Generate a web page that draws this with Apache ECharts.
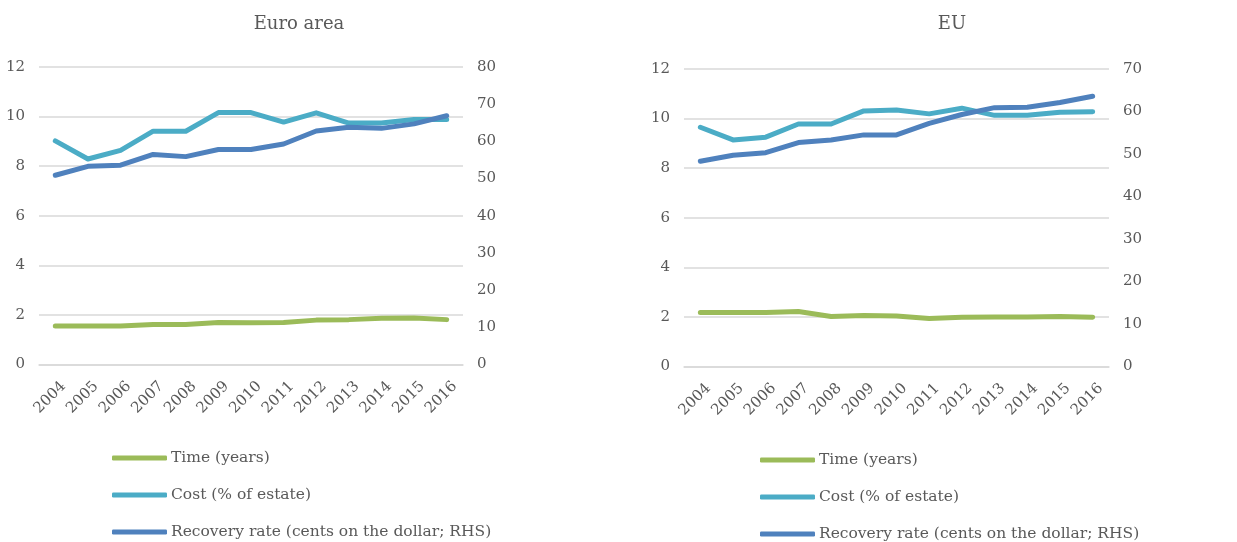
<!DOCTYPE html>
<html>
<head>
<meta charset="utf-8">
<script src="https://cdn.jsdelivr.net/npm/echarts@6/dist/echarts.min.js"></script>
<style>
html,body{margin:0;padding:0;background:#fff;}
#c{width:1237px;height:542px;}
</style>
</head>
<body>
<div id="c"></div>
<script>
const years = ['2004','2005','2006','2007','2008','2009','2010','2011','2012','2013','2014','2015','2016'];
const seriesNames = ['Time (years)', 'Cost (% of estate)', 'Recovery rate (cents on the dollar; RHS)'];
const chartTitles = ['Euro area', 'EU'];

// Euro area
const euroTime = [1.55, 1.55, 1.55, 1.61, 1.61, 1.69, 1.68, 1.69, 1.79, 1.81, 1.87, 1.88, 1.81];
const euroCost = [9.02, 8.29, 8.64, 9.41, 9.41, 10.16, 10.16, 9.78, 10.15, 9.74, 9.74, 9.88, 9.88];
const euroRecovery = [50.9, 53.3, 53.6, 56.5, 55.9, 57.8, 57.8, 59.3, 62.8, 63.8, 63.5, 64.7, 66.9];

// EU
const euTime = [2.18, 2.18, 2.18, 2.22, 2.02, 2.06, 2.04, 1.94, 1.99, 2.0, 2.0, 2.02, 1.99];
const euCost = [9.65, 9.14, 9.25, 9.78, 9.78, 10.31, 10.35, 10.19, 10.42, 10.13, 10.13, 10.26, 10.28];
const euRecovery = [48.3, 49.7, 50.3, 52.7, 53.3, 54.5, 54.5, 57.2, 59.3, 60.9, 61.0, 62.1, 63.6];

const leftTicks = {min: 0, max: 12, interval: 2};
const rightTicksEuro = {min: 0, max: 80, interval: 10};
const rightTicksEU = {min: 0, max: 70, interval: 10};

const colors = ['#9BBB59', '#4BACC6', '#4F81BD'];
const font = 'DejaVu Serif';
const txt = '#595959';
const gridColor = '#D9D9D9';

function xAxis(gi) {
  return {
    type: 'category', gridIndex: gi, data: years, boundaryGap: true,
    axisLine: {show: true, lineStyle: {color: gridColor, width: 1.5}},
    axisTick: {show: false},
    axisLabel: {rotate: 45, margin: 17, verticalAlign: 'top', padding: [0, -4, 0, 0],
                color: txt, fontFamily: font, fontSize: 15}
  };
}
function yLeft(gi) {
  return Object.assign({
    type: 'value', gridIndex: gi, position: 'left',
    axisLine: {show: false}, axisTick: {show: false},
    axisLabel: {margin: 14, color: txt, fontFamily: font, fontSize: 15},
    splitLine: {show: true, lineStyle: {color: gridColor, width: 1.5}}
  }, leftTicks);
}
function yRight(gi, t) {
  return Object.assign({
    type: 'value', gridIndex: gi, position: 'right',
    axisLine: {show: false}, axisTick: {show: false},
    axisLabel: {margin: 14, color: txt, fontFamily: font, fontSize: 15},
    splitLine: {show: false}
  }, t);
}
function line(name, data, xi, yi, color) {
  return {
    name: name, type: 'line', data: data, xAxisIndex: xi, yAxisIndex: yi,
    symbol: 'none', color: color,
    lineStyle: {width: 5, color: color, cap: 'round', join: 'round'},
    emphasis: {disabled: true}
  };
}
function legend(left, top) {
  return {
    orient: 'vertical', left: left, top: top, height: 300, padding: 0,
    icon: 'roundRect', itemWidth: 55, itemHeight: 5, itemGap: 19,
    data: seriesNames,
    textStyle: {color: txt, fontFamily: font, fontSize: 15.5, lineHeight: 18, padding: [0,0,0,-1]}
  };
}

const chart = echarts.init(document.getElementById('c'), null, {renderer: 'canvas'});
chart.setOption({
  animation: false,
  backgroundColor: '#fff',
  title: [
    {text: chartTitles[0], left: 294, top: 10, textAlign: 'center',
     textStyle: {color: txt, fontFamily: font, fontSize: 18, fontWeight: 'normal'}},
    {text: chartTitles[1], left: 947, top: 10, textAlign: 'center',
     textStyle: {color: txt, fontFamily: font, fontSize: 18, fontWeight: 'normal'}}
  ],
  legend: [legend(112, 449), legend(760, 451)],
  grid: [
    {left: 39, top: 67, width: 424, height: 297.5},
    {left: 684, top: 69, width: 425, height: 297.5}
  ],
  xAxis: [xAxis(0), xAxis(1)],
  yAxis: [yLeft(0), yRight(0, rightTicksEuro), yLeft(1), yRight(1, rightTicksEU)],
  series: [
    line(seriesNames[0], euroTime, 0, 0, colors[0]),
    line(seriesNames[1], euroCost, 0, 0, colors[1]),
    line(seriesNames[2], euroRecovery, 0, 1, colors[2]),
    line(seriesNames[0], euTime, 1, 2, colors[0]),
    line(seriesNames[1], euCost, 1, 2, colors[1]),
    line(seriesNames[2], euRecovery, 1, 3, colors[2])
  ]
});
</script>
</body>
</html>
